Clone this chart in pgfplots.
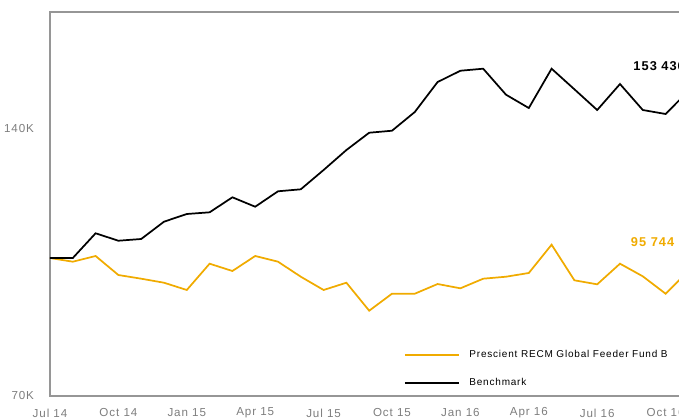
\documentclass[border=0pt]{standalone}
\usepackage{fontspec}
\setmainfont{Liberation Sans}[LetterSpace=8]
\usepackage{pgfplots}
\pgfplotsset{compat=1.18}
\definecolor{fundc}{RGB}{240,171,0}
\definecolor{framec}{RGB}{150,150,150}
\definecolor{tickc}{RGB}{125,125,125}
\begin{document}
\begin{tikzpicture}
\useasboundingbox (-37.5pt,-17.25pt) rectangle (471.75pt,297pt);
\clip (-37.5pt,-17.25pt) rectangle (471.75pt,297pt);
\begin{axis}[at={(0,0)}, anchor=south west, scale only axis,
  width=487.35pt, height=288pt,
  xmin=0, xmax=28.5, ymin=70, ymax=170.3,
  axis line style={draw=framec, line width=1pt},
  xtick={0,3,...,27},
  xticklabels={Jul 14,Oct 14,Jan 15,Apr 15,Jul 15,Oct 15,Jan 16,Apr 16,Jul 16,Oct 16},
  ytick={70,140}, yticklabels={70K,140K},
  major tick length=0pt,
  tick label style={font=\fontsize{8.7}{10}\selectfont, text=tickc, inner sep=0pt},
  xticklabel style={anchor=center, yshift=-12.75pt},
  yticklabel style={anchor=east, xshift=-11.8pt},
  clip mode=individual,
  legend cell align=left,
  legend style={draw=none, fill=none, inner sep=0pt, outer sep=0pt,
    at={(0.5448,0.0703)}, anchor=west,
    font=\fontsize{7.5}{8}\selectfont,
    row sep=10pt, column sep=5.25pt,
    cells={inner sep=0pt, text height=5.2pt, text depth=0pt}},
  legend image code/.code={\draw[#1] (0pt,0pt) -- (40.5pt,0pt);},
]
\addplot[fundc, line width=1.3pt] coordinates {
(0,106.04)(1,105.08)(2,106.57)(3,101.60)(4,100.64)(5,99.59)(6,97.69)(7,104.56)
(8,102.65)(9,106.57)(10,105.08)(11,101.16)(12,97.69)(13,99.59)(14,92.28)(15,96.72)
(16,96.72)(17,99.25)(18,98.13)(19,100.64)(20,101.16)(21,102.13)(22,109.52)(23,100.22)
(24,99.17)(25,104.56)(26,101.26)(27,96.72)(28,102.65)};
\addlegendentry{Prescient RECM Global Feeder Fund B}
\addplot[black, line width=1.3pt] coordinates {
(0,106.04)(1,106.04)(2,112.50)(3,110.56)(4,111.01)(5,115.53)(6,117.54)(7,117.98)
(8,121.90)(9,119.44)(10,123.47)(11,123.99)(12,129.03)(13,134.25)(14,138.77)(15,139.29)
(16,144.18)(17,152.01)(18,154.96)(19,155.49)(20,148.70)(21,145.22)(22,155.49)(23,150.11)
(24,144.70)(25,151.49)(26,144.70)(27,143.66)(28,149.66)};
\addlegendentry{Benchmark}
\node[anchor=west, inner sep=0pt, font=\fontsize{9.6}{11}\selectfont\bfseries] at (axis cs:25.58,156.19) {153 436};
\node[anchor=west, inner sep=0pt, text=fundc, font=\fontsize{9.6}{11}\selectfont\bfseries] at (axis cs:25.47,110.30) {95 744};
\end{axis}
\end{tikzpicture}
\end{document}
